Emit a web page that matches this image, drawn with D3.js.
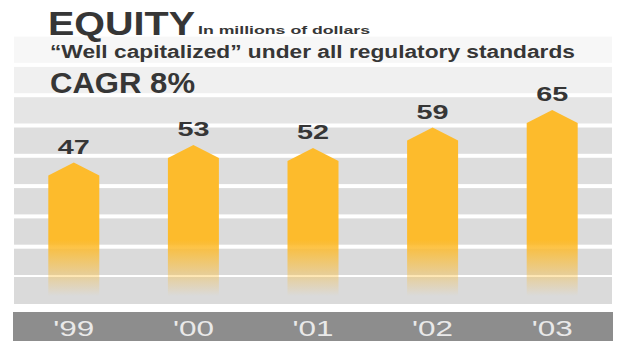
<!DOCTYPE html>
<html>
<head>
<meta charset="utf-8">
<script src="https://cdn.jsdelivr.net/npm/d3@7/dist/d3.min.js"></script>
<style>
  html, body { margin: 0; padding: 0; background: #fff; }
  svg { display: block; }
  text { font-family: "Liberation Sans", Arial, sans-serif; }
</style>
</head>
<body>
<div id="chart"></div>
<script>
const years = ["'99", "'00", "'01", "'02", "'03"];
const equity = [47, 53, 52, 59, 65];
const title = 'EQUITY';
const unit = 'In millions of dollars';
const subtitle = '\u201CWell capitalized\u201D under all regulatory standards';
const cagr = 'CAGR 8%';

const width = 621, height = 341;
const left = 14, right = 612;
const plotBottom = 304;

const svg = d3.select('#chart').append('svg')
  .attr('width', width).attr('height', height);

const defs = svg.append('defs');
const grad = defs.append('linearGradient')
  .attr('id', 'barFade')
  .attr('gradientUnits', 'userSpaceOnUse')
  .attr('x1', 0).attr('x2', 0).attr('y1', 240).attr('y2', 296);
grad.append('stop').attr('offset', 0).attr('stop-color', '#fdbb2c').attr('stop-opacity', 1);
grad.append('stop').attr('offset', 0.75).attr('stop-color', '#fdbb2c').attr('stop-opacity', 0.25);
grad.append('stop').attr('offset', 1).attr('stop-color', '#fdbb2c').attr('stop-opacity', 0);

// striped background, fading out toward the top
const stripeTops = d3.range(9).map(i => plotBottom - 27 - i * 30.3);
const stripeAlpha = [1, 1, 0.97, 0.95, 0.93, 0.9, 0.7, 0.4, 0.22];
svg.append('g').selectAll('rect')
  .data(stripeTops)
  .join('rect')
  .attr('x', left).attr('width', right - left)
  .attr('y', (d, i) => i === 0 ? d : d + 2)
  .attr('height', (d, i) => i === 0 ? plotBottom - d : 26.3)
  .attr('fill', '#dadada')
  .attr('opacity', (d, i) => stripeAlpha[i]);

const x = d3.scaleBand().domain(years).range([left, right]);
const y = d3.scaleLinear().domain([0, 65]).range([300, 110]);
const barW = 51, tip = 13;

const arrow = (d, i) => {
  const cx = x(years[i]) + x.bandwidth() / 2;
  const top = y(d);
  const p = d3.path();
  p.moveTo(cx - barW / 2, plotBottom);
  p.lineTo(cx - barW / 2, top + tip);
  p.lineTo(cx, top);
  p.lineTo(cx + barW / 2, top + tip);
  p.lineTo(cx + barW / 2, plotBottom);
  p.closePath();
  return p.toString();
};

svg.append('g').selectAll('path')
  .data(equity)
  .join('path')
  .attr('d', arrow)
  .attr('fill', 'url(#barFade)');

svg.append('g').selectAll('text')
  .data(equity)
  .join('text')
  .attr('x', (d, i) => x(years[i]) + x.bandwidth() / 2)
  .attr('y', d => y(d) - 9)
  .attr('text-anchor', 'middle')
  .attr('font-size', 21)
  .attr('font-weight', 'bold')
  .attr('fill', '#363636')
  .attr('textLength', 32)
  .attr('lengthAdjust', 'spacingAndGlyphs')
  .text(d => d);

// category band
svg.append('rect')
  .attr('x', left - 1).attr('y', 312)
  .attr('width', right - left + 2).attr('height', height - 312)
  .attr('fill', '#8d8d8d');

svg.append('g').selectAll('text')
  .data(years)
  .join('text')
  .attr('x', d => x(d) + x.bandwidth() / 2)
  .attr('y', 336)
  .attr('text-anchor', 'middle')
  .attr('font-size', 22)
  .attr('fill', '#e9e9e9')
  .attr('textLength', 41)
  .attr('lengthAdjust', 'spacingAndGlyphs')
  .text(d => d);

// header
svg.append('text')
  .attr('x', 48).attr('y', 35)
  .attr('font-size', 34).attr('font-weight', 'bold').attr('fill', '#363636')
  .attr('textLength', 147).attr('lengthAdjust', 'spacingAndGlyphs')
  .text(title);

svg.append('text')
  .attr('x', 198).attr('y', 34)
  .attr('font-size', 11).attr('font-weight', 'bold').attr('fill', '#363636')
  .attr('textLength', 172).attr('lengthAdjust', 'spacingAndGlyphs')
  .text(unit);

svg.append('text')
  .attr('x', 50).attr('y', 58)
  .attr('font-size', 18).attr('font-weight', 'bold').attr('fill', '#363636')
  .attr('textLength', 525).attr('lengthAdjust', 'spacingAndGlyphs')
  .text(subtitle);

svg.append('text')
  .attr('x', 50).attr('y', 93)
  .attr('font-size', 29).attr('font-weight', 'bold').attr('fill', '#363636')
  .attr('textLength', 145).attr('lengthAdjust', 'spacingAndGlyphs')
  .text(cagr);
</script>
</body>
</html>
